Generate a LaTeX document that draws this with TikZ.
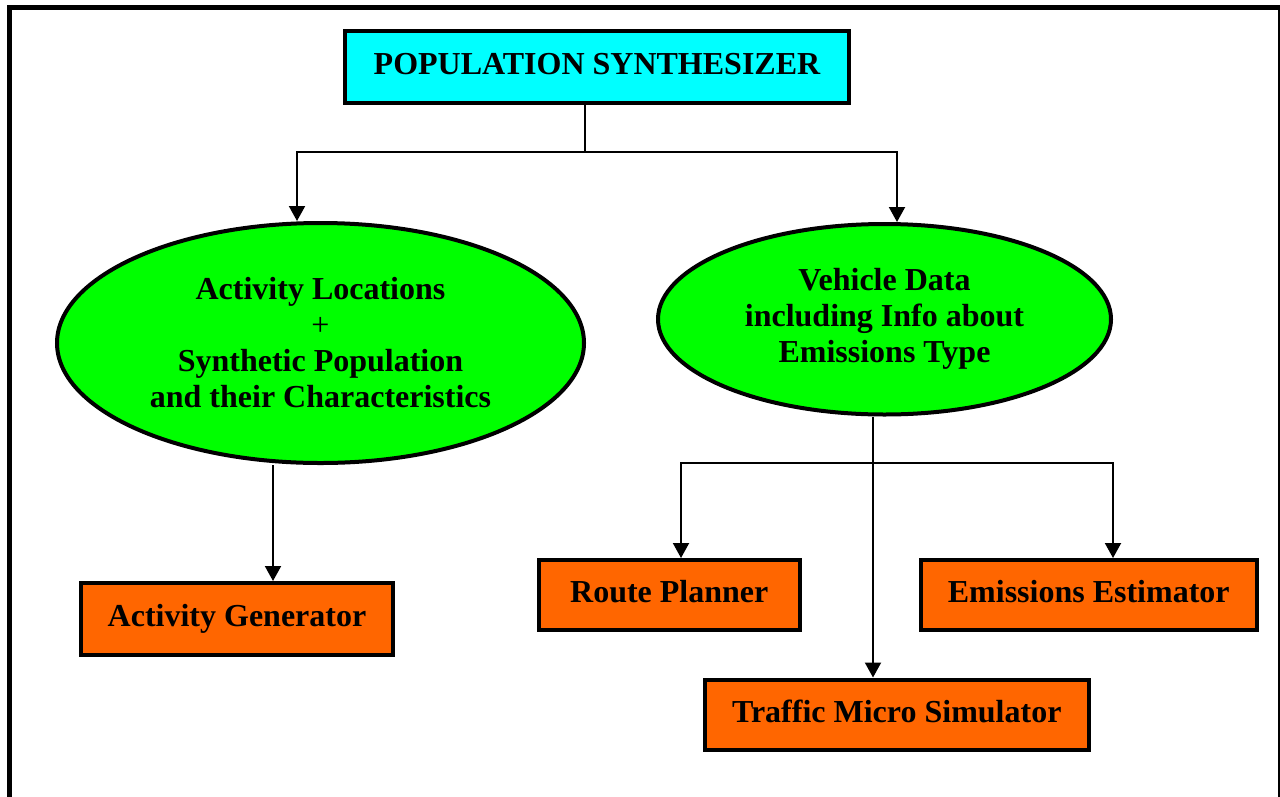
\documentclass[tikz,border=0pt]{standalone}
\usepackage{fontspec}
\setmainfont{Liberation Serif}
\usetikzlibrary{shapes.geometric,arrows.meta}
\definecolor{titlecyan}{RGB}{0,255,255}
\definecolor{ovalgreen}{RGB}{0,255,0}
\definecolor{boxorange}{RGB}{255,102,0}
\begin{document}
\begin{tikzpicture}[x=1pt,y=-1pt,
  every node/.style={font=\fontsize{32}{36}\selectfont\bfseries, align=center, inner sep=0pt},
  block/.style={draw, line width=4pt, rectangle, text height=22pt, text depth=7pt},
  module/.style={block, fill=boxorange},
  oval/.style={draw, line width=4pt, ellipse, fill=ovalgreen},
  link/.style={line width=2pt},
  arr/.style={link, -{Triangle[width=16pt,length=15pt]}}]
\clip (0,0) rectangle (1280,796);
% page frame
\draw[line width=5pt] (9,7) rectangle (1280,830);

% nodes
\node[block, fill=titlecyan, minimum width=504pt, minimum height=71.5pt] (title) at (597,66.75) {POPULATION SYNTHESIZER};
\node[oval, minimum width=527pt, minimum height=240pt] (vl) at (320.5,343)
  {Activity Locations\\ \mdseries+\\ Synthetic Population\\ and their Characteristics};
\node[oval, minimum width=453pt, minimum height=190.5pt] (vr) at (884.5,319.25)
  {Vehicle Data\\ including Info about\\ Emissions Type};
\node[module, minimum width=312pt, minimum height=72pt] (ag) at (237,619) {Activity Generator};
\node[module, minimum width=261.5pt, minimum height=70pt] (rp) at (669.25,595) {Route Planner};
\node[module, minimum width=335.5pt, minimum height=70pt] (ee) at (1088.75,595) {Emissions Estimator};
\node[module, minimum width=383.5pt, minimum height=70.5pt] (tms) at (896.75,714.75) {Traffic Micro Simulator};

% junction points
\coordinate (j1) at (585,152);
\coordinate (jl) at (297,152);
\coordinate (jr) at (897,152);
\coordinate (a1) at (273,463);
\coordinate (j2) at (873,463);
\coordinate (kl) at (681,463);
\coordinate (kr) at (1113,463);

% connectors
\draw[arr] (title.south -| j1) -- (j1) -| (jl |- vl.north);
\draw[arr] (j1) -| (jr |- vr.north);
\draw[arr] (vl.south -| a1) -- (a1 |- ag.north);
\draw[arr] (vr.south -| j2) -- (j2 |- tms.north);
\draw[arr] (j2) -| (kl |- rp.north);
\draw[arr] (j2) -| (kr |- ee.north);
\end{tikzpicture}
\end{document}
